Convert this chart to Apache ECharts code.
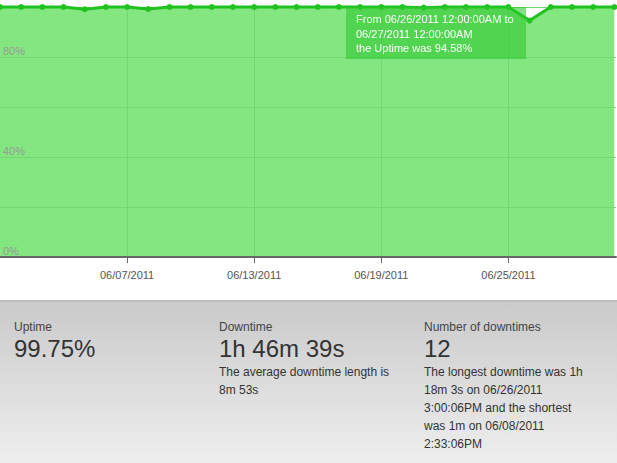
<!DOCTYPE html>
<html>
<head>
<meta charset="utf-8">
<script src="https://cdn.jsdelivr.net/npm/echarts@6/dist/echarts.min.js"></script>
<style>
html,body{margin:0;padding:0;background:#fff;}
#c{width:617px;height:463px;}
</style>
</head>
<body>
<div id="c"></div>
<script>
// ---- data ----
const dates = ['06/01/2011','06/02/2011','06/03/2011','06/04/2011','06/05/2011','06/06/2011','06/07/2011','06/08/2011','06/09/2011','06/10/2011',
  '06/11/2011','06/12/2011','06/13/2011','06/14/2011','06/15/2011','06/16/2011','06/17/2011','06/18/2011','06/19/2011','06/20/2011',
  '06/21/2011','06/22/2011','06/23/2011','06/24/2011','06/25/2011','06/26/2011','06/27/2011','06/28/2011','06/29/2011','06/30/2011'];
const uptime = [100,100,100,100,99.1,100,100,99.2,100,100,
  100,100,100,100,100,100,100,100,100,100,
  99.75,100,100,100,100,94.58,100,100,100,100];
const xLabelDates = ['06/07/2011','06/13/2011','06/19/2011','06/25/2011'];
const yLabelValues = [0, 40, 80];
const tipIndex = 25;
const statTitles = ['Uptime','Downtime','Number of downtimes'];
const statValues = ['99.75%','1h 46m 39s','12'];
const statNotes = ['', 'The average downtime length is\n8m 53s',
  'The longest downtime was 1h\n18m 3s on 06/26/2011\n3:00:06PM and the shortest\nwas 1m on 06/08/2011\n2:33:06PM'];

const FONT = 'Arial, "Liberation Sans", sans-serif';
const points = uptime.map((v, i) => [i, v]);
const xLabelIdx = xLabelDates.map(d => dates.indexOf(d));

const chart = echarts.init(document.getElementById('c'), null, {renderer: 'svg'});

const colX = [14, 219, 424];
const graphics = [
  {type: 'rect', shape: {x: 0, y: 300, width: 617, height: 2}, style: {fill: '#bdbdbd'}, silent: true},
  {type: 'rect', shape: {x: 0, y: 302, width: 617, height: 161}, silent: true,
   style: {fill: new echarts.graphic.LinearGradient(0, 0, 0, 1, [{offset: 0, color: '#cacaca'}, {offset: 1, color: '#eeeeee'}])}}
];
statTitles.forEach((t, i) => {
  graphics.push({type: 'text', x: colX[i], y: 318, silent: true,
    style: {text: t, font: '12px ' + FONT, fill: '#444', lineHeight: 18, verticalAlign: 'top'}});
  graphics.push({type: 'text', x: colX[i], y: 334, silent: true,
    style: {text: statValues[i], font: '24px ' + FONT, fill: '#333', lineHeight: 28, verticalAlign: 'top'}});
  if (statNotes[i]) graphics.push({type: 'text', x: colX[i], y: 362.5, silent: true,
    style: {text: statNotes[i], font: '12px ' + FONT, fill: '#333', lineHeight: 18, verticalAlign: 'top'}});
});

chart.setOption({
  animation: false,
  grid: {left: 0, right: 1, top: 7, bottom: 206, containLabel: false},
  tooltip: {
    trigger: 'item', triggerOn: 'none', alwaysShowContent: true, transitionDuration: 0,
    backgroundColor: 'rgba(45,200,45,0.58)', borderWidth: 0, padding: [5, 12, 3, 10],
    extraCssText: 'box-shadow:none;border-radius:0;',
    textStyle: {color: '#fff', fontSize: 11, fontFamily: FONT},
    position: [346, 7],
    formatter: p => {
      const i = p.dataIndex;
      const next = i + 1 < dates.length ? dates[i + 1] : '07/01/2011';
      return '<div style="line-height:14.5px;font-size:11px;color:#fff;font-family:Arial,\'Liberation Sans\',sans-serif">From ' + dates[i] + ' 12:00:00AM to<br>' +
        next + ' 12:00:00AM<br>the Uptime was ' + uptime[i].toFixed(2) + '%</div>';
    }
  },
  xAxis: {
    type: 'value', min: 0, max: 29.08, interval: 3, z: 2,
    axisLine: {show: true, lineStyle: {color: '#666', width: 2}},
    axisTick: {show: true, length: 6, lineStyle: {color: '#666', width: 1}, customValues: xLabelIdx},
    axisLabel: {
      show: true, margin: 12, color: '#555', fontSize: 11, fontFamily: FONT,
      customValues: xLabelIdx,
      formatter: v => (xLabelIdx.indexOf(v) >= 0 ? dates[v] : '')
    },
    splitLine: {show: true, lineStyle: {color: '#72d770', width: 1}}
  },
  yAxis: {
    type: 'value', min: 0, max: 100, interval: 20, z: 2,
    axisLine: {show: false}, axisTick: {show: false},
    axisLabel: {
      inside: true, margin: 3, color: '#999', fontSize: 11, fontFamily: FONT,
      verticalAlign: 'bottom', padding: [0, 0, 1, 0],
      formatter: v => (yLabelValues.indexOf(v) >= 0 ? v + '%' : '')
    },
    splitLine: {show: true, lineStyle: {color: '#72d770', width: 1}}
  },
  series: [
    {
      type: 'line', data: points, z: 1, silent: true, showSymbol: false, symbol: 'none',
      lineStyle: {width: 0}, areaStyle: {color: '#84e681', opacity: 1}
    },
    {
      type: 'line', data: points, z: 4, clip: false,
      symbol: 'circle', symbolSize: 6, showSymbol: true,
      lineStyle: {color: '#1fc21f', width: 3},
      itemStyle: {color: '#1fc21f'},
      emphasis: {disabled: true}
    }
  ],
  graphic: graphics
});
chart.dispatchAction({type: 'showTip', seriesIndex: 1, dataIndex: tipIndex});
</script>
</body>
</html>
